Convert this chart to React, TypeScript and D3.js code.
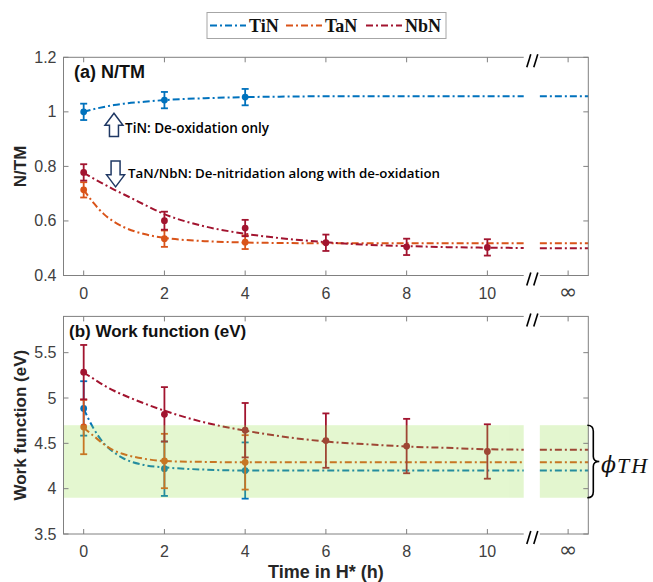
import React, { useEffect } from "react"
import * as d3 from "d3"

// ---- data ----
const seriesNames = ["TiN", "TaN", "NbN"]
const seriesColors = ["#0072BD", "#D95319", "#A2142F"]

const xTickValues = [0, 2, 4, 6, 8, 10, 12]
const xTickLabels = ["0", "2", "4", "6", "8", "10", "∞"]
const ntmTicks = [0.4, 0.6, 0.8, 1, 1.2]
const wfTicks = [3.5, 4, 4.5, 5, 5.5]

const hours = [0, 2, 4, 6, 8, 10]

// (a) N/TM measurements
const ntmTiN = [1.0, 1.043, 1.054]
const ntmTiNErr = [0.03, 0.03, 0.03]
const ntmTaN = [0.714, 0.535, 0.522]
const ntmTaNErr = [0.028, 0.03, 0.025]
const ntmNbN = [0.778, 0.601, 0.574, 0.52, 0.505, 0.503]
const ntmNbNErr = [0.03, 0.033, 0.03, 0.03, 0.03, 0.03]

// (b) work function measurements (eV)
const wfTiN = [4.885, 4.22, 4.2]
const wfTiNErr = [0.3, 0.3, 0.31]
const wfTaN = [4.68, 4.305, 4.29]
const wfTaNErr = [0.3, 0.3, 0.3]
const wfNbN = [5.285, 4.82, 4.645, 4.53, 4.47, 4.41]
const wfNbNErr = [0.3, 0.3, 0.3, 0.3, 0.3, 0.3]

// fitted curves, sampled from the figure
const fitHours = [0, 0.25, 0.5, 0.75, 1, 1.5, 2, 3, 4, 5, 6, 7, 8, 9, 10, 10.9]
const ntmTiNFit = [1.0, 1.01, 1.018, 1.025, 1.03, 1.037, 1.043, 1.05, 1.054, 1.056, 1.057, 1.057, 1.057, 1.057, 1.057, 1.057]
const ntmTaNFit = [0.714, 0.665, 0.625, 0.597, 0.577, 0.552, 0.538, 0.526, 0.521, 0.519, 0.518, 0.518, 0.518, 0.518, 0.518, 0.518]
const ntmNbNFit = [0.776, 0.755, 0.735, 0.715, 0.697, 0.66, 0.625, 0.58, 0.553, 0.535, 0.522, 0.513, 0.508, 0.504, 0.502, 0.501]
const wfTiNFit = [4.88, 4.66, 4.5, 4.4, 4.33, 4.26, 4.235, 4.21, 4.2, 4.2, 4.2, 4.2, 4.2, 4.2, 4.2, 4.2]
const wfTaNFit = [4.67, 4.58, 4.49, 4.42, 4.38, 4.33, 4.305, 4.295, 4.29, 4.29, 4.29, 4.29, 4.29, 4.29, 4.29, 4.29]
const wfNbNFit = [5.28, 5.21, 5.14, 5.08, 5.03, 4.94, 4.86, 4.73, 4.64, 4.57, 4.52, 4.49, 4.465, 4.45, 4.435, 4.43]

// values after the axis break (t -> infinity)
const ntmInf = [1.057, 0.518, 0.5]
const wfInf = [4.2, 4.29, 4.43]

// threshold work-function band (eV)
const bandRange = [3.9, 4.7]

const breakLo = 10.9
const breakHi = 11.3
const xDomain = [-0.5, 12.5]

// ---- layout ----
const W = 653
const H = 582
const left = 63.5
const right = 588.3
const topA = 57.3
const botA = 275.5
const topB = 316.4
const botB = 534

const x = d3.scaleLinear().domain(xDomain).range([left, right])
const yA = d3.scaleLinear().domain([0.4, 1.2]).range([botA, topA])
const yB = d3.scaleLinear().domain([3.5, 5.9]).range([botB, topB])

const dash = "7,3,2,3"
const axisColor = "#808080"
const tickColor = "#404040"

type Series = { mean: number[]; err: number[]; fit: number[]; inf: number }

const ntmSeries: Series[] = [
  { mean: ntmTiN, err: ntmTiNErr, fit: ntmTiNFit, inf: ntmInf[0] },
  { mean: ntmTaN, err: ntmTaNErr, fit: ntmTaNFit, inf: ntmInf[1] },
  { mean: ntmNbN, err: ntmNbNErr, fit: ntmNbNFit, inf: ntmInf[2] },
]
const wfSeries: Series[] = [
  { mean: wfTiN, err: wfTiNErr, fit: wfTiNFit, inf: wfInf[0] },
  { mean: wfTaN, err: wfTaNErr, fit: wfTaNFit, inf: wfInf[1] },
  { mean: wfNbN, err: wfNbNErr, fit: wfNbNFit, inf: wfInf[2] },
]

function Panel({ y, top, bottom, series, yTicks, band }: any) {
  const line = d3
    .line<[number, number]>()
    .x(d => x(d[0]))
    .y(d => y(d[1]))
    .curve(d3.curveMonotoneX)

  const bx = (x(breakLo) + x(breakHi)) / 2
  const slashes = (ay: number) => (
    <g>
      <rect x={x(breakLo)} y={ay - 2} width={x(breakHi) - x(breakLo)} height={4} fill="white" />
      <line x1={bx - 5} y1={ay + 10} x2={bx - 1} y2={ay - 3} stroke="#000" strokeWidth={1.6} />
      <line x1={bx + 2} y1={ay + 10} x2={bx + 6} y2={ay - 3} stroke="#000" strokeWidth={1.6} />
    </g>
  )

  return (
    <g>
      {series.map((s: Series, i: number) => (
        <g key={"fit" + i} fill="none" stroke={seriesColors[i]} strokeWidth={2} strokeDasharray={dash}>
          <path d={line(fitHours.map((t, k) => [t, s.fit[k]]) as [number, number][]) || ""} />
          <path d={line([[breakHi, s.inf], [xDomain[1], s.inf]]) || ""} />
        </g>
      ))}
      {series.map((s: Series, i: number) => (
        <g key={"pts" + i} stroke={seriesColors[i]} fill={seriesColors[i]} strokeWidth={1.8}>
          {s.mean.map((v, k) => {
            const cx = x(hours[k])
            const y0 = y(v - s.err[k])
            const y1 = y(v + s.err[k])
            return (
              <g key={k}>
                <line x1={cx} x2={cx} y1={y0} y2={y1} />
                <line x1={cx - 3.5} x2={cx + 3.5} y1={y0} y2={y0} />
                <line x1={cx - 3.5} x2={cx + 3.5} y1={y1} y2={y1} />
                <circle cx={cx} cy={y(v)} r={3.4} stroke="none" />
              </g>
            )
          })}
        </g>
      ))}
      {band && (
        <g fill="rgb(147,223,67)" opacity={0.25}>
          <rect x={x(xDomain[0])} width={x(breakLo) - x(xDomain[0])} y={y(band[1])} height={y(band[0]) - y(band[1])} />
          <rect x={x(breakHi)} width={x(xDomain[1]) - x(breakHi)} y={y(band[1])} height={y(band[0]) - y(band[1])} />
        </g>
      )}
      <rect x={left} y={top} width={right - left} height={bottom - top} fill="none" stroke={axisColor} strokeWidth={1} />
      {xTickValues.map(t => (
        <g key={t} stroke={axisColor}>
          <line x1={x(t)} x2={x(t)} y1={bottom} y2={bottom - 5} />
          <line x1={x(t)} x2={x(t)} y1={top} y2={top + 5} />
        </g>
      ))}
      {yTicks.map((t: number) => (
        <g key={t} stroke={axisColor}>
          <line x1={left} x2={left + 5} y1={y(t)} y2={y(t)} />
          <line x1={right} x2={right - 5} y1={y(t)} y2={y(t)} />
        </g>
      ))}
      {yTicks.map((t: number) => (
        <text key={"l" + t} x={left - 7} y={y(t) + 5.5} textAnchor="end" fontSize={16} fill={tickColor} fontFamily="Liberation Sans, Arial, sans-serif">
          {t}
        </text>
      ))}
      {xTickValues.map((t, k) => (
        <text key={"xl" + t} x={x(t)} y={bottom + 23} textAnchor="middle" fontSize={k === 6 ? 22 : 16} fill={tickColor} fontFamily={k === 6 ? "DejaVu Sans, sans-serif" : "Liberation Sans, Arial, sans-serif"}>
          {xTickLabels[k]}
        </text>
      ))}
      {slashes(top)}
      {slashes(bottom)}
    </g>
  )
}

function BlockArrow({ cx, y0, y1, up }: { cx: number; y0: number; y1: number; up: boolean }) {
  const hw = 9
  const sw = 4.5
  const hh = 12
  const p = up
    ? [[cx, y0], [cx + hw, y0 + hh], [cx + sw, y0 + hh], [cx + sw, y1], [cx - sw, y1], [cx - sw, y0 + hh], [cx - hw, y0 + hh]]
    : [[cx, y1], [cx + hw, y1 - hh], [cx + sw, y1 - hh], [cx + sw, y0], [cx - sw, y0], [cx - sw, y1 - hh], [cx - hw, y1 - hh]]
  return <polygon points={p.map(d => d.join(",")).join(" ")} fill="white" stroke="#1f3864" strokeWidth={1.5} />
}

export default function App() {
  useEffect(() => {
    document.body.style.margin = "0"
  }, [])

  const legendX = [210, 286, 366]
  const bandTop = yB(bandRange[1])
  const bandBot = yB(bandRange[0])
  const bmid = (bandTop + bandBot) / 2

  return (
    <svg width={W} height={H} style={{ display: "block", background: "white" }} fontFamily="Liberation Sans, Arial, sans-serif">
      {/* legend */}
      <rect x={207} y={12.5} width={239} height={26} fill="white" stroke="#a6a6a6" strokeWidth={1} />
      {seriesNames.map((n, i) => (
        <g key={n}>
          <line x1={legendX[i]} x2={legendX[i] + 36} y1={25.5} y2={25.5} stroke={seriesColors[i]} strokeWidth={2} strokeDasharray={dash} />
          <text x={legendX[i] + 39} y={31.5} fontSize={18} fontWeight="bold" fontFamily="Liberation Serif, Times New Roman, serif" fill="#111">
            {n}
          </text>
        </g>
      ))}

      <Panel y={yA} top={topA} bottom={botA} series={ntmSeries} yTicks={ntmTicks} />
      <Panel y={yB} top={topB} bottom={botB} series={wfSeries} yTicks={wfTicks} band={bandRange} />

      {/* panel titles */}
      <text x={74} y={77.5} fontSize={18} fontWeight="bold" fill="#111">(a) N/TM</text>
      <text x={69} y={336.5} fontSize={17} fontWeight="bold" fill="#111">(b) Work function (eV)</text>

      {/* annotations */}
      <BlockArrow cx={x(0.75)} y0={yA(0.995)} y1={yA(0.91)} up={true} />
      <text x={125} y={133} fontSize={13.5} fontWeight={600} fontFamily="Open Sans, sans-serif" fill="#000">
        TiN: De-oxidation only
      </text>
      <BlockArrow cx={x(0.79)} y0={yA(0.82)} y1={yA(0.725)} up={false} />
      <text x={128} y={177.5} fontSize={13.3} fontWeight={600} fontFamily="Open Sans, sans-serif" fill="#000">
        TaN/NbN: De-nitridation along with de-oxidation
      </text>

      {/* axis labels */}
      <text transform={`translate(26,${(topA + botA) / 2}) rotate(-90)`} textAnchor="middle" fontSize={17} fontWeight="bold" fill="#262626">
        N/TM
      </text>
      <text transform={`translate(26,${(topB + botB) / 2}) rotate(-90)`} textAnchor="middle" fontSize={17} fontWeight="bold" fill="#262626">
        Work function (eV)
      </text>
      <text x={(left + right) / 2} y={578} textAnchor="middle" fontSize={18} fontWeight="bold" fill="#262626">
        Time in H* (h)
      </text>

      {/* threshold brace */}
      <path
        d={`M ${right - 1} ${bandTop} q 6 0 6 6 L ${right + 5} ${bmid - 5} q 0 5 6 5 q -6 0 -6 5 L ${right + 5} ${bandBot - 6} q 0 6 -6 6`}
        fill="none"
        stroke="#000"
        strokeWidth={1.6}
      />
      <text x={601} y={472} fontSize={22} fontStyle="italic" fontFamily="DejaVu Serif, serif" fill="#111">
        ϕ
      </text>
      <text x={617} y={472.5} fontSize={22} fontStyle="italic" fontFamily="Liberation Serif, serif" fill="#111" letterSpacing={2}>
        TH
      </text>
    </svg>
  )
}
